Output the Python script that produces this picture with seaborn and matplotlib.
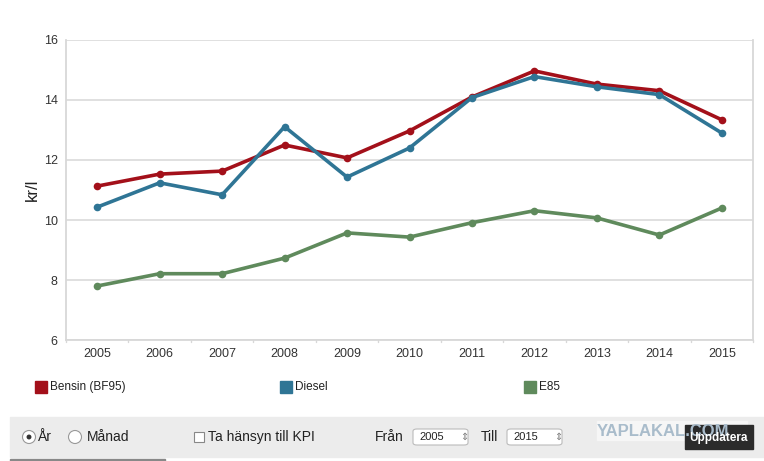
import pandas as pd
import seaborn as sns
import matplotlib.pyplot as plt
from matplotlib.patches import Rectangle, FancyBboxPatch, Ellipse

years = [2005, 2006, 2007, 2008, 2009, 2010, 2011, 2012, 2013, 2014, 2015]
bensin = [11.13, 11.53, 11.63, 12.50, 12.07, 12.97, 14.10, 14.97, 14.53, 14.31, 13.34]
diesel = [10.43, 11.24, 10.84, 13.11, 11.43, 12.40, 14.08, 14.78, 14.44, 14.18, 12.90]
e85 = [7.80, 8.21, 8.21, 8.73, 9.57, 9.43, 9.91, 10.31, 10.07, 9.50, 10.40]
series_names = ["Bensin (BF95)", "Diesel", "E85"]
colors = ["#a3101a", "#2f7595", "#5f8a5c"]

rows = []
for name, vals in zip(series_names, [bensin, diesel, e85]):
    for i, v in enumerate(vals):
        rows.append({"pos": i, "year": years[i], "price": v, "fuel": name})
df = pd.DataFrame(rows)

sns.set_theme(style="white")
plt.rcParams['font.family'] = ['Liberation Sans', 'DejaVu Sans']

fig = plt.figure(figsize=(7.64, 4.61), dpi=100)
W, H = 764, 461
ax = fig.add_axes([66 / W, 1 - 340 / H, 687 / W, 300 / H])

sns.lineplot(data=df, x="pos", y="price", hue="fuel", palette=colors,
             marker="o", markersize=5.5, markeredgewidth=0, linewidth=2.6,
             legend=False, ax=ax)

ax.set_xlim(-0.5, len(years) - 0.5)
ax.set_ylim(6, 16)
ax.set_xticks(range(len(years)))
ax.set_xticklabels([str(y) for y in years])
ax.set_yticks([6, 8, 10, 12, 14, 16])
ax.set_xlabel("")
ax.set_ylabel("kr/l", fontsize=12, color="#222222", labelpad=3)
ax.yaxis.grid(True, color="#dddddd", linewidth=1.3)
ax.set_axisbelow(True)
for side in ["left", "bottom", "right"]:
    ax.spines[side].set_color("#d8d8d8")
    ax.spines[side].set_linewidth(1.3)
ax.spines["top"].set_visible(False)
ax.tick_params(axis="both", labelsize=9, colors="#333333", length=0, pad=6)
# small separators between categories on x-axis
for b in range(len(years) + 1):
    ax.plot([b - 0.5, b - 0.5], [6, 5.93], color="#d8d8d8", lw=1, clip_on=False)

# legend row
for name, col, x0 in zip(series_names, colors, [35, 280, 524]):
    fig.patches.append(Rectangle((x0 / W, 1 - 393 / H), 12 / W, 12 / H,
                                 transform=fig.transFigure, color=col))
    fig.text((x0 + 15) / W, 1 - 387 / H, name, fontsize=8.5, color="#222222", va="center")

# control bar
fig.patches.append(Rectangle((10 / W, 1 - 457 / H), 754 / W, 40 / H,
                             transform=fig.transFigure, color="#ececec", zorder=0))
fig.patches.append(Rectangle((10 / W, 0), 155 / W, 2 / H,
                             transform=fig.transFigure, color="#888888"))
yc = 1 - 437 / H
for cx, filled in [(29, True), (75, False)]:
    fig.patches.append(Ellipse((cx / W, yc), 13 / W, 13 / H, transform=fig.transFigure,
                               facecolor="white", edgecolor="#999999", lw=0.8))
    if filled:
        fig.patches.append(Ellipse((cx / W, yc), 3.5 / W, 3.5 / H,
                                   transform=fig.transFigure, color="#333333"))
fig.text(38 / W, yc, "År", fontsize=10, color="#222222", va="center")
fig.text(87 / W, yc, "Månad", fontsize=10, color="#222222", va="center")
fig.patches.append(Rectangle((194 / W, 1 - 442 / H), 10 / W, 10 / H,
                             transform=fig.transFigure, facecolor="white",
                             edgecolor="#888888", lw=0.8))
fig.text(208 / W, yc, "Ta hänsyn till KPI", fontsize=10, color="#222222", va="center")
fig.text(375 / W, yc, "Från", fontsize=10, color="#222222", va="center")
fig.text(481 / W, yc, "Till", fontsize=10, color="#222222", va="center")
for bx, lab in [(413, "2005"), (507, "2015")]:
    fig.patches.append(FancyBboxPatch((bx / W, 1 - 445 / H), 55 / W, 16 / H,
                                      boxstyle="round,pad=0,rounding_size=0.005",
                                      transform=fig.transFigure, facecolor="white",
                                      edgecolor="#bbbbbb", lw=0.8))
    fig.text((bx + 6) / W, yc, lab, fontsize=8, color="#222222", va="center")
    fig.text((bx + 47) / W, yc, "⇕", fontsize=7, color="#777777", va="center",
             family=['DejaVu Sans'])

# watermark + button
fig.patches.append(Rectangle((597 / W, 1 - 440 / H), 150 / W, 19 / H,
                             transform=fig.transFigure, color="#f6f6f6"))
fig.text(597 / W, 1 - 431 / H, "YAPLAKAL.COM", fontsize=12, fontweight="bold",
         color="#a9bccb", ha="left", va="center")
fig.patches.append(Rectangle((685 / W, 1 - 449 / H), 68 / W, 24 / H,
                             transform=fig.transFigure, color="#2b2b2b"))
fig.text(719 / W, 1 - 438 / H, "Uppdatera", fontsize=8.5, fontweight="bold",
         color="white", ha="center", va="center")

fig.savefig("out.png", dpi=100)
